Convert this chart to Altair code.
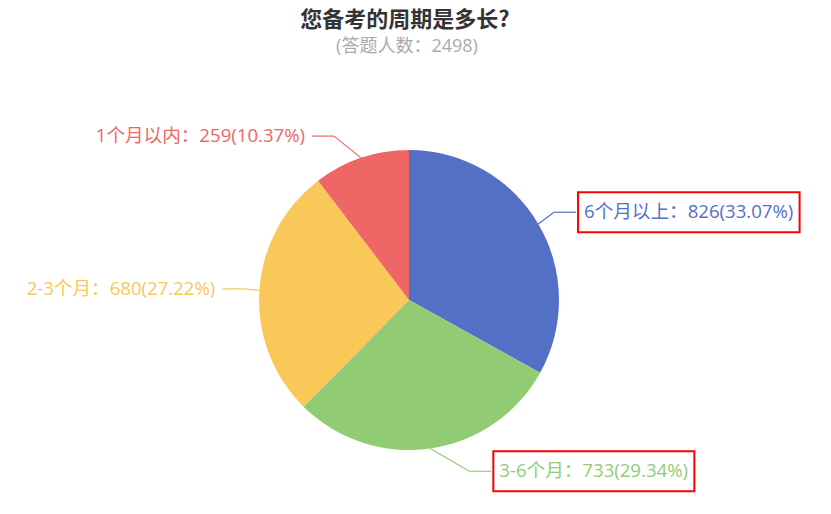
import altair as alt
import pandas as pd

# ---- data ----
categories = ["6个月以上", "3-6个月", "2-3个月", "1个月以内"]
counts = [826, 733, 680, 259]
colors = ["#5470c6", "#91cc75", "#fac858", "#ee6666"]
highlighted = ["6个月以上", "3-6个月"]
title_text = "您备考的周期是多长?"
subtitle_text = "(答题人数：2498)"

# ---- layout ----
W, H = 815, 498
CX, CY = 401, 292
R = 150
LEN, LEN2 = 15, 22
LABEL_R = 173
RB = 184
FONT = "'Open Sans', 'Noto Sans CJK SC'"
CJK_FONT = "'Noto Sans CJK SC'"
LABEL_SIZE = 18.6

total = sum(counts)
labels = [f"{c}：{n}({n / total * 100:.2f}%)" for c, n in zip(categories, counts)]

_w = {"(": 0.296, ")": 0.296, ".": 0.267, "%": 0.832, "-": 0.322, "?": 0.43}


def text_width(s, size):
    w = 0.0
    for ch in s:
        if ch.isdigit():
            w += 0.572
        elif ch in _w:
            w += _w[ch]
        elif ord(ch) > 0x2E80:
            w += 1.0
        else:
            w += 0.55
    return w * size


df = pd.DataFrame({
    "category": categories,
    "count": counts,
    "order": list(range(len(categories))),
    "label": labels,
    "tw": [text_width(l, LABEL_SIZE) for l in labels],
    "hl": [c in highlighted for c in categories],
})

color_scale = alt.Scale(domain=categories, range=colors)

pie = alt.Chart(df).mark_arc(radius=R, stroke=None).encode(
    theta=alt.Theta("count:Q", stack=True),
    color=alt.Color("category:N", scale=color_scale, legend=None),
    order=alt.Order("order:Q"),
    x=alt.value(CX),
    y=alt.value(CY),
)

base = alt.Chart(df).transform_joinaggregate(
    total="sum(count)"
).transform_window(
    cum="sum(count)", sort=[alt.SortField("order")], frame=[None, 0]
).transform_calculate(
    a="2*PI*(datum.cum - datum.count/2)/datum.total"
).transform_calculate(
    s="sin(datum.a)", c="cos(datum.a)"
).transform_calculate(
    side="datum.s >= 0 ? 1 : -1",
    x0=f"{CX} + {R}*datum.s",
    y0=f"{CY} - {R}*datum.c",
    ly=f"{CY} - {LABEL_R}*datum.c",
).transform_calculate(
    x1=f"{CX} + datum.side*{R + LEN}*sqrt(max(0, 1 - pow(({LABEL_R}*datum.c)/{RB}, 2)))"
).transform_calculate(
    x2=f"datum.x1 + datum.side*{LEN2}"
).transform_calculate(
    bx1="datum.side > 0 ? datum.x2 + 8 - 6 : datum.x2 - 7 - datum.tw - 6",
    bx2="datum.side > 0 ? datum.x2 + 8 + datum.tw + 6 : datum.x2 - 7 + 6",
    by1="datum.ly - 20",
    by2="datum.ly + 20",
)


def X(f):
    return alt.X(f"{f}:Q", scale=None, axis=None)


def Y(f):
    return alt.Y(f"{f}:Q", scale=None, axis=None)


line1 = base.mark_rule(strokeWidth=1.2).encode(
    x=X("x0"), y=Y("y0"), x2="x1:Q", y2="ly:Q",
    color=alt.Color("category:N", scale=color_scale, legend=None),
)
line2 = base.mark_rule(strokeWidth=1.2).encode(
    x=X("x1"), y=Y("ly"), x2="x2:Q", y2="ly:Q",
    color=alt.Color("category:N", scale=color_scale, legend=None),
)

text_right = base.transform_filter("datum.side > 0").mark_text(
    align="left", baseline="middle", dx=8, font=FONT, fontSize=LABEL_SIZE
).encode(
    x=X("x2"), y=Y("ly"), text="label:N",
    color=alt.Color("category:N", scale=color_scale, legend=None),
)
text_left = base.transform_filter("datum.side < 0").mark_text(
    align="right", baseline="middle", dx=-7, font=FONT, fontSize=LABEL_SIZE
).encode(
    x=X("x2"), y=Y("ly"), text="label:N",
    color=alt.Color("category:N", scale=color_scale, legend=None),
)

boxes = base.transform_filter("datum.hl").mark_rect(
    fillOpacity=0, stroke="#ff0000", strokeWidth=2
).encode(
    x=X("bx1"), x2="bx2:Q", y=Y("by1"), y2="by2:Q",
)

title = alt.Chart(pd.DataFrame({"t": [title_text]})).mark_text(
    font=CJK_FONT, fontSize=22, fontWeight="bold", color="#333333",
    align="center", baseline="middle"
).encode(text="t:N", x=alt.value(397), y=alt.value(12))

subtitle = alt.Chart(pd.DataFrame({"t": [subtitle_text]})).mark_text(
    font=FONT, fontSize=18, color="#aaaaaa", align="center", baseline="middle"
).encode(text="t:N", x=alt.value(399), y=alt.value(39))

chart = alt.layer(
    pie, line1, line2, text_right, text_left, boxes, title, subtitle
).properties(
    width=W, height=H, autosize=alt.AutoSizeParams(type="none"), padding=0
).configure_view(strokeWidth=0)

chart.save("out.html", embed_options={"renderer": "svg", "actions": False})
